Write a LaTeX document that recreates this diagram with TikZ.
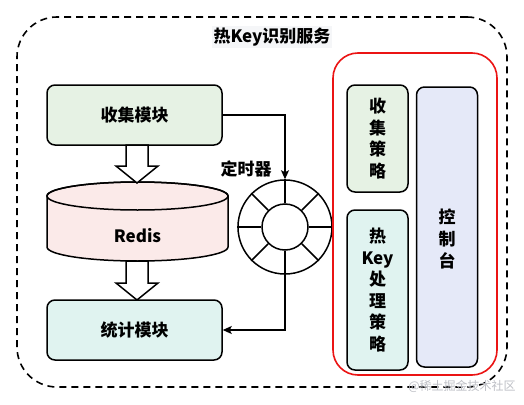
\documentclass[tikz,border=0pt]{standalone}
\usepackage{fontspec}
\setmainfont{Noto Sans CJK SC}
\usetikzlibrary{arrows.meta,calc}
\definecolor{cgreen}{RGB}{230,242,228}
\definecolor{ccyan}{RGB}{224,243,240}
\definecolor{cpink}{RGB}{251,234,233}
\definecolor{clav}{RGB}{229,233,248}
\definecolor{ctitle}{RGB}{245,246,248}
\definecolor{cred}{RGB}{235,20,20}
\definecolor{cmark}{RGB}{190,192,198}
\begin{document}
\begin{tikzpicture}[x=1pt,y=-1pt,
  font=\bfseries\fontsize{17}{21.6}\selectfont,
  box/.style={draw, line width=1.5pt, rounded corners=8pt, align=center, inner sep=0pt},
  blockarrow/.style={draw, fill=white, line width=1.5pt, line join=miter},
  conn/.style={line width=1.4pt, -{Stealth[length=9pt,width=8pt,inset=2pt]}}]
\useasboundingbox (0,0) rectangle (524,404);
\fill[white] (0,0) rectangle (524,404);
% outer dashed service boundary
\node[draw, dash pattern=on 7pt off 5pt, line width=1.6pt, rounded corners=40pt,
  minimum width=490pt, minimum height=370pt, inner sep=0pt] (service) at (262,202) {};
\node[fill=ctitle, inner sep=2pt] (title) at (272,37) {热Key识别服务};
% left column
\node[box, fill=cgreen, minimum width=175pt, minimum height=60pt] (collect) at (134.5,115) {收集模块};
\node[box, fill=ccyan, minimum width=175pt, minimum height=60pt] (stat) at (134.5,330) {统计模块};
% Redis cylinder
\draw[fill=cpink, line width=1.5pt] (47,196) -- (47,247)
  arc[start angle=180, end angle=360, x radius=90.5pt, y radius=14pt]
  -- (228,196)
  arc[start angle=0, end angle=180, x radius=90.5pt, y radius=14pt] -- cycle;
\draw[line width=1.5pt] (137.5,196) ellipse [x radius=90.5pt, y radius=14pt];
\node[inner sep=0pt] (redis) at (137.5,236) {Redis};
% block arrows
\draw[blockarrow] (126,145) -- (148,145) -- (148,166) -- (158,166) -- (137,183)
  -- (116,166) -- (126,166) -- cycle;
\draw[blockarrow] (126,261) -- (148,261) -- (148,283) -- (158,283) -- (137,300)
  -- (116,283) -- (126,283) -- cycle;
% timer wheel
\node[draw, circle, line width=1.5pt, minimum size=94pt, inner sep=0pt] (timer) at (285,227) {};
\node[draw, circle, line width=1.5pt, minimum size=46pt, inner sep=0pt] (hub) at (285,227) {};
\foreach \a in {0,45,...,315} \draw[line width=1.5pt] (hub.\a) -- (timer.\a);
\node[inner sep=0pt] (timerlabel) at (246,169) {定时器};
% connectors
\draw[conn] (collect.east) -| (timer.north);
\draw[conn] (timer.south) |- (stat.east);
% right panel
\node[draw=cred, line width=1.6pt, rounded corners=25pt, minimum width=164pt,
  minimum height=322pt, inner sep=0pt] (panel) at (415,214) {};
\node[box, fill=cgreen, minimum width=61pt, minimum height=107pt] (cstrategy) at (377.5,138.5) {收\\集\\策\\略};
\node[box, fill=ccyan, minimum width=61pt, minimum height=160pt] (hstrategy) at (377.5,290) {热\\Key\\处\\理\\策\\略};
\node[box, fill=clav, minimum width=61pt, minimum height=280pt] (console) at (447,227) {};
\node[align=center, inner sep=0pt] (consoletext) at (447,239) {控\\制\\台};
% watermark
\node[text=cmark, font=\fontsize{12}{14}\selectfont, inner sep=0pt] (mark) at (462,386) {@稀土掘金技术社区};
\end{tikzpicture}
\end{document}
